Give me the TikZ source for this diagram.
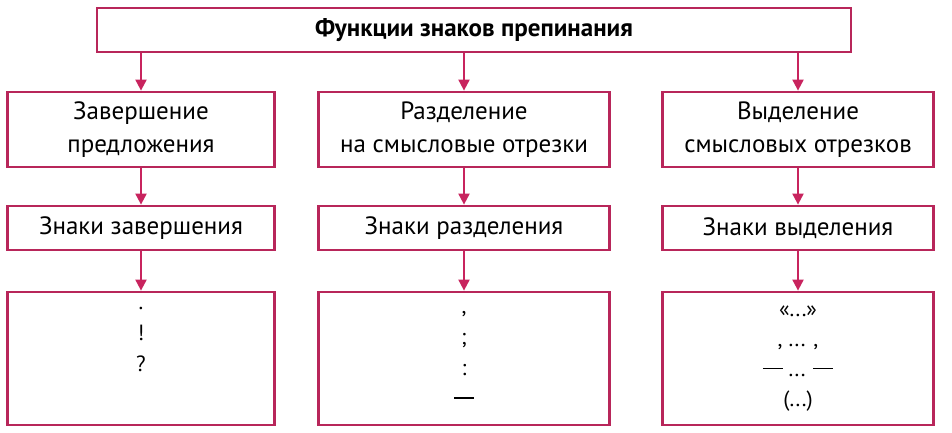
\documentclass[tikz,border=0pt]{standalone}
\usepackage{fontspec}
\setmainfont{PT Sans}
\usetikzlibrary{arrows.meta}
\definecolor{frame}{HTML}{B8265A}
\definecolor{arr}{HTML}{C8245E}
\newcommand{\mydash}{\rule[0.33em]{0.9em}{1.6pt}}
\begin{document}
\begin{tikzpicture}[x=1pt,y=-1pt,
  box/.style={draw=frame,line width=2.8pt,fill=white,inner sep=0pt,font=\fontsize{25}{33}\selectfont,align=center},
  conn/.style={draw=arr,line width=2pt,-{Triangle[length=11pt,width=11pt]}}]
\useasboundingbox[fill=white] (0,0) rectangle (952,432);
\node[box,minimum width=754pt,minimum height=44pt,font=\fontsize{25}{30}\selectfont\bfseries] (top) at (474,30) {Функции знаков препинания};
\node[box,minimum width=267pt,minimum height=75pt] (a1) at (141,129.5) {Завершение\\предложения};
\node[box,minimum width=291pt,minimum height=75pt] (b1) at (464,129.5) {Разделение\\на смысловые отрезки};
\node[box,minimum width=271pt,minimum height=75pt] (c1) at (798,129.5) {Выделение\\смысловых отрезков};
\node[box,minimum width=267pt,minimum height=44pt] (a2) at (141,228) {Знаки завершения};
\node[box,minimum width=291pt,minimum height=44pt] (b2) at (464,228) {Знаки разделения};
\node[box,minimum width=271pt,minimum height=44pt] (c2) at (798,228) {Знаки выделения};
\node[box,minimum width=267pt,minimum height=133pt,font=\fontsize{22}{31}\selectfont] (a3) at (141,358.5) {.\\!\\?\\[8pt]};
\node[box,minimum width=291pt,minimum height=133pt,font=\fontsize{22}{31}\selectfont] (b3) at (464,358.5) {,\\;\\:\\\mydash};
\node[box,minimum width=271pt,minimum height=133pt,font=\fontsize{22}{30}\selectfont] (c3) at (798,358.5) {«...»\\, ... ,\\\mydash\ ... \mydash\\(...)};
\draw[conn] (top.south -| a1) -- (a1);
\draw[conn] (top.south -| b1) -- (b1);
\draw[conn] (top.south -| c1) -- (c1);
\draw[conn] (a1) -- (a2); \draw[conn] (b1) -- (b2); \draw[conn] (c1) -- (c2);
\draw[conn] (a2) -- (a3); \draw[conn] (b2) -- (b3); \draw[conn] (c2) -- (c3);
\end{tikzpicture}
\end{document}
